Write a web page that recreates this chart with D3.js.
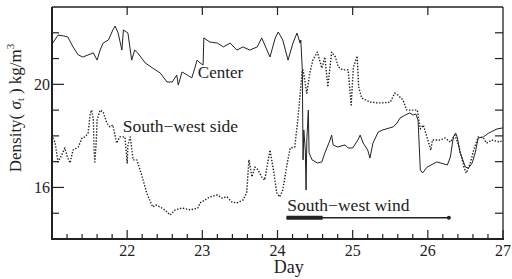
<!DOCTYPE html>
<html lang="en">
<head>
  <meta charset="UTF-8">
  <title>Density time series</title>
  <script src="https://d3js.org/d3.v7.min.js"></script>
  <style>
    body { margin: 0; background: #fff; }
    text { font-family: "Liberation Serif", "Times New Roman", serif; fill: #222; }
    .frame { fill: none; stroke: #222; }
    .series { fill: none; stroke: #222; stroke-linejoin: round; }
  </style>
</head>
<body>
  <div id="chart"></div>
  <script>
    const width = 512, height = 279;

    // axis ticks
    const xTicks = [22, 23, 24, 25, 26, 27];
    const yLabelTicks = [16, 20];

    // Center station (solid) [day, density]
    const center = [
      [21.01, 21.60], [21.08, 21.91], [21.15, 21.88], [21.21, 21.84], [21.28, 21.45],
      [21.35, 21.14], [21.41, 21.06], [21.48, 21.14], [21.55, 21.22], [21.60, 20.94],
      [21.64, 21.33], [21.68, 21.60], [21.75, 21.72], [21.81, 22.11], [21.84, 22.26],
      [21.88, 21.99], [21.93, 21.33], [21.95, 22.11], [22.01, 21.99], [22.06, 20.94],
      [22.10, 21.33], [22.14, 21.22], [22.24, 20.83], [22.34, 20.63], [22.44, 20.44],
      [22.53, 20.09], [22.60, 20.09], [22.66, 20.36], [22.68, 19.97], [22.73, 20.48],
      [22.80, 20.36], [22.86, 20.25], [22.90, 20.63], [22.93, 20.94], [22.97, 20.83],
      [23.01, 20.75], [23.02, 21.80], [23.10, 21.64], [23.20, 21.60], [23.28, 21.45],
      [23.37, 21.60], [23.46, 21.33], [23.54, 21.45], [23.63, 21.33], [23.73, 21.45],
      [23.79, 21.80], [23.86, 21.33], [23.90, 21.06], [23.97, 21.80], [24.01, 22.03],
      [24.07, 21.72], [24.14, 20.94], [24.21, 21.64], [24.26, 21.99], [24.30, 21.60],
      [24.31, 21.72], [24.33, 20.56], [24.34, 17.07], [24.35, 18.23], [24.37, 17.45],
      [24.38, 15.90], [24.39, 17.84], [24.41, 19.00], [24.42, 17.34], [24.46, 17.07],
      [24.53, 16.95], [24.59, 16.99], [24.63, 17.34], [24.70, 17.84], [24.72, 18.03],
      [24.74, 17.65], [24.80, 17.57], [24.90, 17.65], [24.94, 17.53], [25.00, 17.53],
      [25.07, 17.84], [25.10, 18.03], [25.14, 17.72], [25.20, 17.45], [25.23, 17.14],
      [25.27, 17.72], [25.34, 18.15], [25.40, 18.23], [25.54, 18.35], [25.59, 18.50],
      [25.63, 18.69], [25.70, 18.81], [25.76, 18.89], [25.80, 18.81], [25.84, 18.85],
      [25.87, 18.62], [25.90, 16.68], [25.93, 16.56], [25.99, 16.79], [26.12, 16.99],
      [26.26, 16.87], [26.30, 17.18], [26.34, 17.96], [26.37, 18.11], [26.39, 17.96],
      [26.43, 17.34], [26.50, 16.79], [26.54, 16.75], [26.59, 16.95], [26.63, 17.34],
      [26.67, 17.92], [26.74, 17.96], [26.81, 18.11], [26.92, 18.27], [27.00, 18.31]
    ];

    // South-west side station (dotted) [day, density]
    const southWest = [
      [21.01, 17.92], [21.04, 17.76], [21.08, 16.99], [21.13, 17.26], [21.17, 17.53],
      [21.21, 17.14], [21.24, 16.95], [21.28, 17.45], [21.35, 17.57], [21.40, 17.92],
      [21.44, 17.96], [21.48, 18.11], [21.51, 18.89], [21.53, 19.00], [21.55, 18.62],
      [21.56, 17.45], [21.57, 16.99], [21.59, 17.84], [21.60, 18.62], [21.64, 19.00],
      [21.68, 18.93], [21.73, 18.50], [21.77, 18.35], [21.81, 18.42], [21.86, 17.72],
      [21.90, 17.96], [21.97, 17.96], [22.00, 16.95], [22.01, 17.65], [22.04, 17.96],
      [22.08, 17.07], [22.13, 17.07], [22.20, 16.41], [22.26, 15.79], [22.30, 15.51],
      [22.34, 15.24], [22.38, 15.32], [22.44, 15.24], [22.50, 15.13], [22.57, 14.93],
      [22.64, 15.13], [22.73, 15.20], [22.84, 15.13], [22.94, 15.20], [22.97, 15.40],
      [23.10, 15.63], [23.20, 15.71], [23.26, 15.59], [23.33, 15.63], [23.39, 15.44],
      [23.46, 15.40], [23.54, 15.51], [23.59, 15.79], [23.62, 17.07], [23.66, 16.41],
      [23.70, 16.79], [23.74, 16.68], [23.79, 16.41], [23.83, 16.29], [23.86, 16.79],
      [23.90, 17.45], [23.94, 16.79], [23.99, 15.79], [24.03, 15.63], [24.07, 15.90],
      [24.13, 16.95], [24.17, 17.53], [24.23, 17.57], [24.27, 18.62], [24.31, 19.90],
      [24.33, 20.56], [24.34, 20.56], [24.39, 19.66], [24.43, 20.44], [24.47, 20.94],
      [24.53, 21.25], [24.59, 20.63], [24.63, 21.06], [24.67, 19.90], [24.72, 21.25],
      [24.77, 21.06], [24.81, 20.67], [24.87, 20.56], [24.94, 20.56], [24.98, 19.20],
      [25.01, 20.67], [25.06, 21.10], [25.08, 19.90], [25.12, 19.47], [25.23, 19.31],
      [25.34, 19.28], [25.40, 19.28], [25.50, 19.31], [25.56, 19.66], [25.60, 19.59],
      [25.67, 19.39], [25.72, 19.00], [25.79, 19.00], [25.86, 19.00], [25.90, 18.27],
      [25.94, 18.42], [26.00, 17.84], [26.04, 17.45], [26.06, 17.84], [26.16, 17.84],
      [26.23, 17.92], [26.30, 17.76], [26.36, 18.03], [26.40, 17.72], [26.45, 17.18],
      [26.48, 16.79], [26.51, 16.56], [26.53, 16.68], [26.57, 16.99], [26.61, 17.45],
      [26.67, 17.96], [26.74, 17.92], [26.78, 17.72], [26.85, 17.84], [26.96, 17.76],
      [27.00, 17.84]
    ];

    // wind period: thick segment, then thin line to end
    const windStrong = [24.12, 24.60];
    const windPeriod = [24.12, 26.28];
    const windLevel = 14.82;

    const margin = { left: 52, right: 9, top: 7, bottom: 40 };

    const x = d3.scaleLinear().domain([21, 27])
      .range([margin.left, width - margin.right]);
    const y = d3.scaleLinear().domain([14, 23])
      .range([height - margin.bottom, margin.top]);

    const svg = d3.select("#chart").append("svg")
      .attr("width", width)
      .attr("height", height);

    const x0 = x.range()[0], x1 = x.range()[1];
    const y0 = y.range()[0], y1 = y.range()[1];

    // ticks
    const minorX = d3.range(21, 27.001, 0.2);
    const tickG = svg.append("g").attr("stroke", "#222").attr("stroke-width", 1.2);

    minorX.forEach(v => {
      const major = Math.abs(v - Math.round(v)) < 1e-6;
      tickG.append("line")
        .attr("x1", x(v)).attr("x2", x(v))
        .attr("y1", y0).attr("y2", y0 - (major ? 9 : 5));
      if (major && v > 21 && v < 27) {
        tickG.append("line")
          .attr("x1", x(v)).attr("x2", x(v))
          .attr("y1", y1).attr("y2", y1 + 8);
      }
    });

    d3.range(15, 23).forEach(v => {
      const major = yLabelTicks.includes(v);
      tickG.append("line")
        .attr("x1", x0).attr("x2", x0 + (major ? 12 : 7))
        .attr("y1", y(v)).attr("y2", y(v));
      tickG.append("line")
        .attr("x1", x1).attr("x2", x1 - 8)
        .attr("y1", y(v)).attr("y2", y(v));
    });

    // frame: top/right thin, left/bottom heavier
    svg.append("line").attr("class", "frame").attr("stroke-width", 1.3)
      .attr("x1", x0).attr("x2", x1).attr("y1", y1).attr("y2", y1);
    svg.append("line").attr("class", "frame").attr("stroke-width", 1.3)
      .attr("x1", x1).attr("x2", x1).attr("y1", y1).attr("y2", y0);
    svg.append("line").attr("class", "frame").attr("stroke-width", 2)
      .attr("x1", x0).attr("x2", x0).attr("y1", y1).attr("y2", y0);
    svg.append("line").attr("class", "frame").attr("stroke-width", 2.2)
      .attr("x1", x0 - 1).attr("x2", x1 + 1).attr("y1", y0).attr("y2", y0);

    // tick labels
    svg.selectAll(".xlab").data(xTicks).enter().append("text")
      .attr("x", d => x(d))
      .attr("y", y0 + 17)
      .attr("text-anchor", "middle")
      .attr("font-size", 16)
      .text(d => d);

    svg.selectAll(".ylab").data(yLabelTicks).enter().append("text")
      .attr("x", x0 - 2)
      .attr("y", d => y(d) + 5.5)
      .attr("text-anchor", "end")
      .attr("font-size", 16)
      .text(d => d);

    // axis titles
    svg.append("text")
      .attr("x", x(24.15))
      .attr("y", 273)
      .attr("text-anchor", "middle")
      .attr("font-size", 18)
      .text("Day");

    const yt = svg.append("text")
      .attr("transform", "translate(21,108) rotate(-90)")
      .attr("text-anchor", "middle")
      .attr("font-size", 17);
    yt.append("tspan").text("Density(");
    yt.append("tspan").attr("font-style", "italic").text(" σ");
    yt.append("tspan").attr("font-size", 10).attr("dy", 3).text("t");
    yt.append("tspan").attr("dy", -3).text(" ) kg/m");
    yt.append("tspan").attr("font-size", 11).attr("dy", -7).text("3");

    // series
    const line = d3.line().x(d => x(d[0])).y(d => y(d[1]));

    svg.append("path")
      .datum(southWest)
      .attr("class", "series")
      .attr("stroke-width", 1.4)
      .attr("stroke-dasharray", "1.4,1.6")
      .attr("d", line);

    svg.append("path")
      .datum(center)
      .attr("class", "series")
      .attr("stroke-width", 1.0)
      .attr("d", line);

    // annotations
    svg.append("text")
      .attr("x", x(22.94)).attr("y", 78)
      .attr("font-size", 17)
      .text("Center");

    svg.append("text")
      .attr("x", x(21.94)).attr("y", 132)
      .attr("font-size", 17.5)
      .text("South\u2212west side");

    svg.append("text")
      .attr("x", x(24.13)).attr("y", 211)
      .attr("font-size", 17.5)
      .text("South\u2212west wind");

    // wind bar
    svg.append("line")
      .attr("x1", x(windPeriod[0])).attr("x2", x(windPeriod[1]))
      .attr("y1", y(windLevel)).attr("y2", y(windLevel))
      .attr("stroke", "#222").attr("stroke-width", 1.5);
    svg.append("line")
      .attr("x1", x(windStrong[0])).attr("x2", x(windStrong[1]))
      .attr("y1", y(windLevel)).attr("y2", y(windLevel))
      .attr("stroke", "#222").attr("stroke-width", 4);
    svg.append("circle")
      .attr("cx", x(windPeriod[1])).attr("cy", y(windLevel))
      .attr("r", 2).attr("fill", "#222");
  </script>
</body>
</html>
